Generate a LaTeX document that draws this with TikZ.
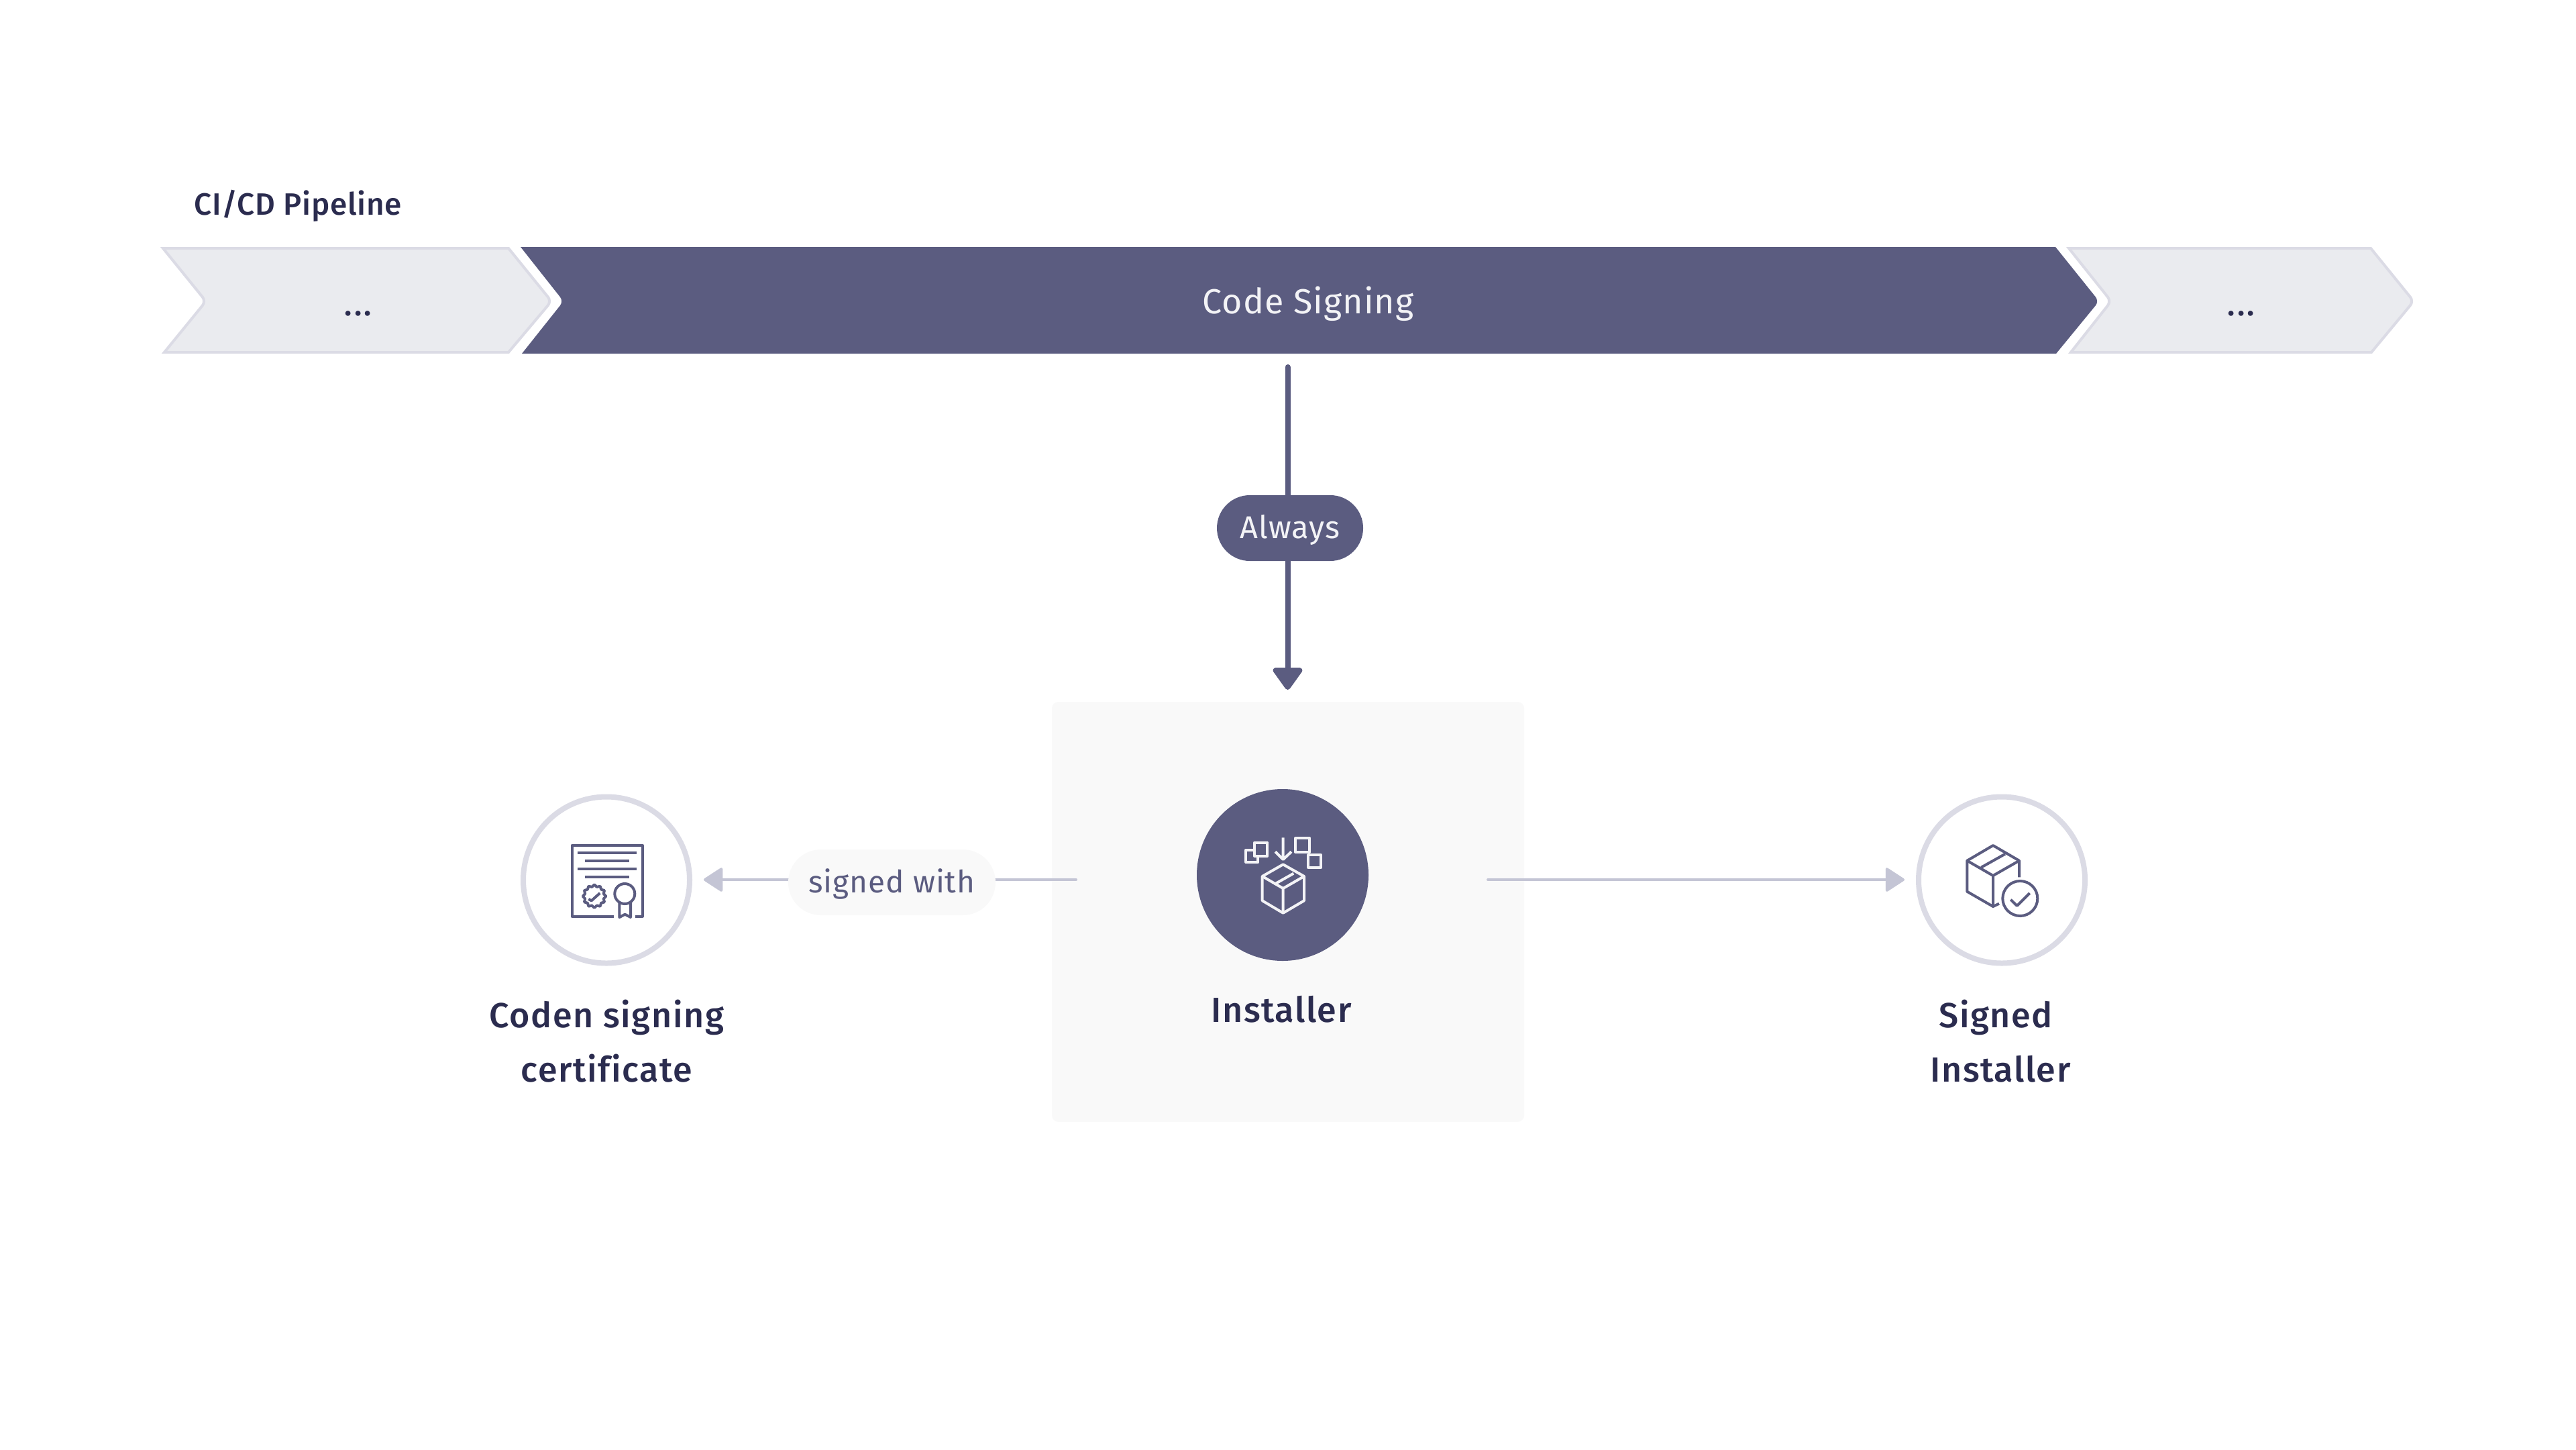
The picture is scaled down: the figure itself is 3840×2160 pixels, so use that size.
\documentclass[tikz,border=0pt]{standalone}
\usepackage{fontspec}
\setmainfont{Fira Sans}
\newfontfamily\medf{Fira Sans}[UprightFont=* Medium,LetterSpace=3,Ligatures=CommonOff]
\newfontfamily\titlef{Fira Sans}[UprightFont=* Medium,LetterSpace=1.5]
\newfontfamily\regf{Fira Sans}[LetterSpace=2]
\newfontfamily\dotf{Fira Sans}[UprightFont=* Medium,LetterSpace=7]
\usetikzlibrary{arrows.meta}
\definecolor{dk}{HTML}{5B5C80}
\definecolor{ink}{HTML}{2B2C4F}
\definecolor{ring}{HTML}{DBDBE5}
\definecolor{chev}{HTML}{EAEBEF}
\definecolor{arr}{HTML}{C4C5D5}
\definecolor{pane}{HTML}{F9F9F9}
\definecolor{wht}{HTML}{F3F3F6}
\tikzset{
  x=1pt,y=-1pt,
  lightchev/.style={fill=chev,draw=ring,line width=4pt,line join=miter},
  ringc/.style={circle,draw=ring,line width=8pt,fill=white,minimum size=248pt,inner sep=0pt},
  txt/.style={inner sep=0pt,anchor=base,font=\dotf\fontsize{47}{47}\selectfont},
  head/.style={inner sep=0pt,anchor=base,align=center,text=ink,font=\medf\fontsize{52}{81}\selectfont},
  pill/.style={rounded corners=49pt,inner sep=0pt,minimum height=98pt},
  iconl/.style={draw=dk,line width=4pt,line cap=butt,line join=round},
  iconw/.style={draw=wht,line width=4pt,line cap=butt,line join=round},
  heavy/.style={draw=dk,line width=8pt,line cap=round,-{Triangle[length=36pt,width=49pt,round]}},
  thin/.style={draw=arr,line width=4pt,line cap=round,-{Triangle[length=30pt,width=38pt,round]}},
}
\begin{document}
\begin{tikzpicture}
\useasboundingbox (0,0) rectangle (3840,2160);
\fill[white] (0,0) rectangle (3840,2160);

% title
\node[inner sep=0pt,anchor=base west,text=ink,font=\titlef\fontsize{46}{46}\selectfont] (title) at (289,320) {CI/CD Pipeline};

% pipeline
\path[lightchev] (243,370) -- (758,370) [rounded corners=8pt] -- (822,449) [sharp corners] -- (758,525) -- (245,525) [rounded corners=8pt] -- (307,449) [sharp corners] -- cycle;
\path[lightchev] (3084,370) -- (3534,370) [rounded corners=8pt] -- (3598,449) [sharp corners] -- (3535,525) -- (3087,525) [rounded corners=8pt] -- (3147,449) [sharp corners] -- cycle;
\fill[dk] (776,368) -- (3064,368) [rounded corners=8pt] -- (3129,449) [sharp corners] -- (3065,527) -- (778,527) [rounded corners=8pt] -- (840,449) [sharp corners] -- cycle;
\node[txt,text=ink] (stepa) at (534,470) {...};
\node[txt,text=ink] (stepc) at (3341,470) {...};
\node[txt,text=wht,font=\regf\fontsize{52}{52}\selectfont] (signing) at (1950,467) {Code Signing};

% installer pane
\fill[pane,rounded corners=10pt] (1568,1046) rectangle (2272,1672);

% connectors' free ends
\coordinate (alwaysTop) at (1919.5,547);
\coordinate (alwaysEnd) at (1919.5,1028);
\coordinate (signedFrom) at (1604,1311);
\coordinate (signedTo) at (1049,1311);
\coordinate (outFrom) at (2218,1311);
\coordinate (outTo) at (2839,1311);

\draw[heavy] (alwaysTop) -- (alwaysEnd);
\draw[thin] (signedFrom) -- (signedTo);
\draw[thin] (outFrom) -- (outTo);

\node[pill,fill=dk,minimum width=218pt,text=wht,font=\regf\fontsize{47}{47}\selectfont] (always) at (1923,787) {\raisebox{-15pt}[0pt][0pt]{Always}};
\node[pill,fill=pane,minimum width=309pt,text=dk,font=\regf\fontsize{46}{46}\selectfont] (with) at (1329.5,1315) {\raisebox{-15pt}[0pt][0pt]{signed with}};

% circles
\node[ringc] (cert) at (904,1311.5) {};
\node[ringc] (signed) at (2984,1311.5) {};
\node[circle,fill=dk,minimum size=256pt,inner sep=0pt] (inst) at (1912,1304) {};

% certificate icon
\draw[iconl] (915,1365.7) -- (852.5,1365.7) -- (852.5,1260) -- (957.7,1260) -- (957.7,1365.7) -- (947,1365.7);
\draw[iconl] (861,1271) -- (949,1271) (872,1283) -- (938,1283) (861,1295.3) -- (949,1295.3) (872,1307.3) -- (938,1307.3);
\draw[iconl] plot[samples=24,domain=0:345,variable=\a] ({886+(15.8+1.5*cos(12*\a))*cos(\a)},{1335.7+(15.8+1.5*cos(12*\a))*sin(\a)}) -- cycle;
\draw[iconl] (877.3,1340) -- (881.7,1342.3) -- (894.3,1331);
\draw[iconl] (931.3,1332) circle[radius=15];
\draw[iconl] (923.3,1345) -- (923.3,1367) -- (931.7,1362.7) -- (940,1367) -- (940,1345);

% installer icon
\draw[iconw] (1870,1255.7) rectangle (1889.3,1276);
\draw[iconw] (1869.3,1266.7) -- (1857.3,1266.7) -- (1857.3,1285) -- (1875.3,1285) -- (1875.3,1276);
\draw[iconw] (1931,1249.3) rectangle (1952.3,1270);
\draw[iconw] (1950.3,1274.3) rectangle (1969,1293);
\draw[iconw] (1912.7,1248.3) -- (1912.7,1281) (1901,1269.3) -- (1912.7,1281) -- (1925,1269.3);
\draw[iconw] (1912.7,1288.3) -- (1944,1306) -- (1944,1342.3) -- (1912.7,1360.7) -- (1881.7,1342.3) -- (1881.7,1306) -- cycle;
\draw[iconw] (1881.7,1306) -- (1912.7,1324) -- (1944,1306) (1912.7,1324) -- (1912.7,1360.7) (1901.7,1316.7) -- (1928.3,1301.7);

% signed installer icon
\draw[iconl] (3010,1307.3) -- (3010,1282.7) -- (2971,1260) -- (2932.3,1282.7) -- (2932.3,1328.7) -- (2971,1351) -- (2980,1346.7);
\draw[iconl] (2932.3,1282.7) -- (2971,1305) -- (3010,1282.7) (2971,1305) -- (2971,1351) (2953.3,1292.7) -- (2989,1272.7);
\draw[iconl] (3011.3,1339) circle[radius=26];
\draw[iconl] (2997.3,1340.7) -- (3006.7,1350) -- (3025.7,1331);

% labels
\node[head] (certlabel) at (904.5,1612) {Coden signing\\certificate};
\node[head] (instlabel) at (1910,1523) {Installer};
\node[head] (signedlabel) at (2982,1612) {Signed\hspace*{14pt}\\Installer};
\end{tikzpicture}
\end{document}
